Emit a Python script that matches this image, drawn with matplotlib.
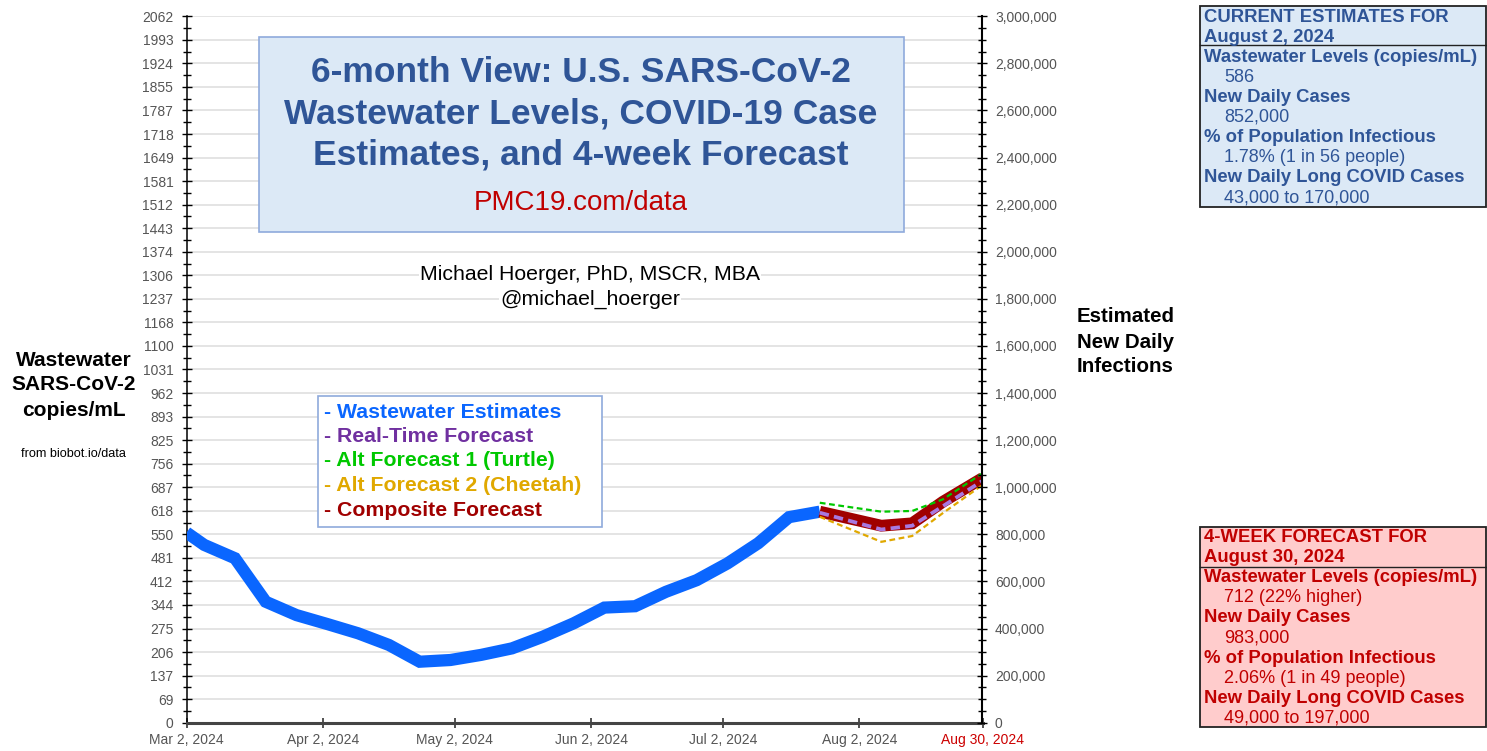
import matplotlib
matplotlib.use('Agg')
import matplotlib.pyplot as plt
from matplotlib.ticker import MultipleLocator, FuncFormatter, FixedLocator
from matplotlib.patches import Rectangle
from matplotlib.lines import Line2D
from datetime import datetime

plt.rcParams['font.family'] = ['Liberation Sans', 'DejaVu Sans']

W, H = 1487, 751

# ---------------- data ----------------
ww_dates = ['2024-03-02', '2024-03-06', '2024-03-13', '2024-03-20', '2024-03-27',
            '2024-04-03', '2024-04-10', '2024-04-17', '2024-04-24', '2024-05-01',
            '2024-05-08', '2024-05-15', '2024-05-22', '2024-05-29', '2024-06-05',
            '2024-06-12', '2024-06-19', '2024-06-26', '2024-07-03', '2024-07-10',
            '2024-07-17', '2024-07-24']
ww_values = [555, 519, 480, 353, 314, 288, 261, 227, 178, 183, 198, 217, 251, 290,
             336, 340, 382, 416, 465, 524, 600, 616]

fc_dates = ['2024-07-24', '2024-08-07', '2024-08-14', '2024-08-21', '2024-08-30']
composite = [616, 575, 582, 645, 714]
realtime = [613, 564, 575, 632, 706]
turtle = [642, 616, 618, 652, 728]
cheetah = [601, 528, 545, 612, 694]

left_tick_labels = ['0', '69', '137', '206', '275', '344', '412', '481', '550', '618',
                    '687', '756', '825', '893', '962', '1031', '1100', '1168', '1237',
                    '1306', '1374', '1443', '1512', '1581', '1649', '1718', '1787',
                    '1855', '1924', '1993', '2062']
left_max = 2062
right_max = 3000000

x_tick_dates = ['2024-03-02', '2024-04-02', '2024-05-02', '2024-06-02', '2024-07-02',
                '2024-08-02', '2024-08-30']
x_tick_labels = ['Mar 2, 2024', 'Apr 2, 2024', 'May 2, 2024', 'Jun 2, 2024',
                 'Jul 2, 2024', 'Aug 2, 2024', 'Aug 30, 2024']

legend_items = ['- Wastewater Estimates', '- Real-Time Forecast',
                '- Alt Forecast 1 (Turtle)', '- Alt Forecast 2 (Cheetah)',
                '- Composite Forecast']

current_rows = [('CURRENT ESTIMATES FOR', True), ('August 2, 2024', True),
                ('Wastewater Levels (copies/mL)', True), ('586', False),
                ('New Daily Cases', True), ('852,000', False),
                ('% of Population Infectious', True), ('1.78% (1 in 56 people)', False),
                ('New Daily Long COVID Cases', True), ('43,000 to 170,000', False)]
forecast_rows = [('4-WEEK FORECAST FOR', True), ('August 30, 2024', True),
                 ('Wastewater Levels (copies/mL)', True), ('712 (22% higher)', False),
                 ('New Daily Cases', True), ('983,000', False),
                 ('% of Population Infectious', True), ('2.06% (1 in 49 people)', False),
                 ('New Daily Long COVID Cases', True), ('49,000 to 197,000', False)]

# ---------------- colors ----------------
BLUE = '#0a66ff'
PURPLE_TXT = '#7030a0'
PURPLE_LINE = '#a878e0'
GREEN = '#00c800'
ORANGE = '#e0a800'
DARKRED = '#a00000'
TITLE_BLUE = '#2f5597'
RED = '#c00000'
GRAY = '#555555'

def d(s):
    return datetime.strptime(s, '%Y-%m-%d')

fig = plt.figure(figsize=(W / 100, H / 100), dpi=100)
fig.patch.set_facecolor('white')

ax_l, ax_r, ax_t, ax_b = 186.6, 982.5, 16.3, 722.7
ax = fig.add_axes([ax_l / W, 1 - ax_b / H, (ax_r - ax_l) / W, (ax_b - ax_t) / H])
ax.set_xlim(d('2024-03-02'), d('2024-08-30'))
ax.set_ylim(0, left_max)

# y ticks / grid
ypos = [left_max * k / 30 for k in range(31)]
ax.yaxis.set_major_locator(FixedLocator(ypos))
ax.set_yticklabels(left_tick_labels)
ax.yaxis.set_minor_locator(FixedLocator([left_max * (k + 0.5) / 30 for k in range(30)]))
ax.grid(axis='y', which='major', color='#e2e2e2', lw=1.3, zorder=0)
ax.set_axisbelow(True)
ax.tick_params(axis='y', which='major', direction='inout', length=7.2, width=1.0,
               color='black', labelcolor=GRAY, labelsize=10, pad=6)
ax.tick_params(axis='y', which='minor', direction='inout', length=5.5, width=1.0,
               color='black')

# x ticks
ax.set_xticks([d(s) for s in x_tick_dates])
ax.set_xticklabels(x_tick_labels)
ax.tick_params(axis='x', which='major', direction='inout', length=7, width=1.2,
               color='#333333', labelcolor=GRAY, labelsize=10, pad=4)
ax.get_xticklabels()[-1].set_color('#cc0000')

for sp in ['top', 'right']:
    ax.spines[sp].set_visible(False)
ax.spines['left'].set_color('black')
ax.spines['left'].set_linewidth(1.1)
ax.spines['bottom'].set_color('#444444')
ax.spines['bottom'].set_linewidth(2.2)

# right axis
ax2 = ax.twinx()
ax2.set_ylim(0, right_max)
ax2.yaxis.set_major_locator(MultipleLocator(200000))
ax2.yaxis.set_minor_locator(MultipleLocator(50000))
ax2.yaxis.set_major_formatter(FuncFormatter(lambda v, p: f'{int(v):,}'))
ax2.tick_params(axis='y', which='major', direction='inout', length=7.2, width=1.0,
                color='black', labelcolor=GRAY, labelsize=10, pad=5.4)
ax2.tick_params(axis='y', which='minor', direction='inout', length=5.5, width=1.0,
                color='black')
for sp in ['top', 'left', 'bottom']:
    ax2.spines[sp].set_visible(False)
ax2.spines['right'].set_color('black')
ax2.spines['right'].set_linewidth(1.5)

# lines
wx = [d(s) for s in ww_dates]
fx = [d(s) for s in fc_dates]
ax.plot(wx, ww_values, color=BLUE, lw=8.8, solid_joinstyle='miter',
        solid_capstyle='butt', zorder=3)
ax.plot(fx, composite, color=DARKRED, lw=8.5, solid_joinstyle='miter',
        solid_capstyle='butt', zorder=4)
l1, = ax.plot(fx, realtime, color=PURPLE_LINE, lw=2.7, zorder=5)
l1.set_dashes((2.5, 1.4))
l2, = ax.plot(fx, turtle, color=GREEN, lw=1.6, zorder=6)
l2.set_dashes((2.6, 1.6))
l3, = ax.plot(fx, cheetah, color=ORANGE, lw=1.6, zorder=6)
l3.set_dashes((2.6, 1.6))

# ---------------- helpers ----------------
def ftext(px, py, s, **kw):
    return fig.text(px / W, 1 - py / H, s, **kw)

def frect(x0, y0, x1, y1, **kw):
    r = Rectangle((x0 / W, 1 - y1 / H), (x1 - x0) / W, (y1 - y0) / H,
                  transform=fig.transFigure, **kw)
    fig.patches.append(r)
    return r

def fline(x0, x1, y, **kw):
    fig.lines.append(Line2D([x0 / W, x1 / W], [1 - y / H, 1 - y / H],
                            transform=fig.transFigure, **kw))

# title box
frect(258.5, 37.3, 904.5, 231.5, facecolor='#dce9f6', edgecolor='#8faadc', lw=1.2, zorder=10)
title_lines = ['6-month View: U.S. SARS-CoV-2', 'Wastewater Levels, COVID-19 Case',
               'Estimates, and 4-week Forecast']
for i, s in enumerate(title_lines):
    ftext(580.5, 73 + 41 * i, s, ha='center', va='center', fontsize=25.5,
          fontweight='bold', color=TITLE_BLUE, zorder=11)
ftext(581, 203, 'PMC19.com/data', ha='center', va='center', fontsize=20,
      color=RED, zorder=11)

# author
for i, s in enumerate(['Michael Hoerger, PhD, MSCR, MBA', '@michael_hoerger']):
    ftext(590, 274 + 25 * i, s, ha='center', va='center', fontsize=15.3,
          color='black', zorder=11,
          bbox=dict(facecolor='white', edgecolor='none', pad=1.0))

# legend
frect(318, 396, 601.7, 527.3, facecolor='white', edgecolor='#8faadc', lw=1.2, zorder=10)
leg_colors = [BLUE, PURPLE_TXT, GREEN, ORANGE, DARKRED]
for i, (s, c) in enumerate(zip(legend_items, leg_colors)):
    ftext(324, 412 + 24.5 * i, s, ha='left', va='center', fontsize=15.3,
          fontweight='bold', color=c, zorder=11)

# axis titles
for i, s in enumerate(['Wastewater', 'SARS-CoV-2', 'copies/mL']):
    ftext(74, 360 + 25 * i, s, ha='center', va='center', fontsize=15,
          fontweight='bold', color='black')
ftext(73, 454, 'from biobot.io/data', ha='center', va='center', fontsize=9.1,
      color='black')
for i, s in enumerate(['Estimated', 'New Daily', 'Infections']):
    ftext(1125.5, 317 + 25 * i, s, ha='center', va='center', fontsize=14.8,
          fontweight='bold', color='black')

# info boxes
def info_box(y0, y1, sep, rows, face, color, top):
    frect(1199.5, y0, 1486, y1, facecolor=face, edgecolor='#222222', lw=1.3, zorder=10)
    fline(1199.5, 1486, sep, color='#222222', lw=1.0, zorder=11)
    for i, (s, bold) in enumerate(rows):
        if bold:
            ftext(1204, top + 20.1 * i, s, ha='left', va='center', fontsize=13.3,
                  fontweight='bold', color=color, zorder=12)
        else:
            ftext(1224, top + 20.1 * i, s, ha='left', va='center', fontsize=13,
                  color=color, zorder=12)

info_box(6, 207, 44.5, current_rows, '#dce9f6', TITLE_BLUE, 17)
info_box(527, 727.3, 566.7, forecast_rows, '#ffcccc', RED, 537.5)

fig.savefig('out.png', dpi=100, facecolor='white')
